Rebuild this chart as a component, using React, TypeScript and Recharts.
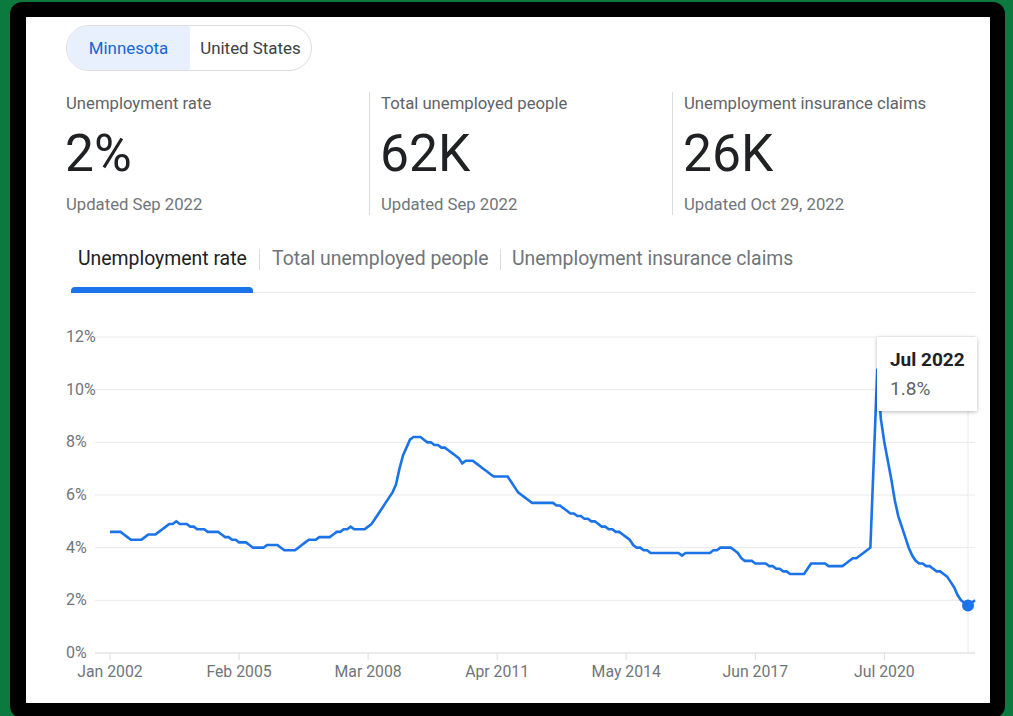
import React from "react";
import {
  LineChart,
  Line,
  XAxis,
  YAxis,
  CartesianGrid,
  Tooltip,
} from "recharts";

// Minnesota unemployment rate, monthly, Jan 2002 - Sep 2022 (%)
const rate2002 = [4.6, 4.6, 4.6, 4.6, 4.5, 4.4, 4.3, 4.3, 4.3, 4.3, 4.4, 4.5];
const rate2003 = [4.5, 4.5, 4.6, 4.7, 4.8, 4.9, 4.9, 5.0, 4.9, 4.9, 4.9, 4.8];
const rate2004 = [4.8, 4.7, 4.7, 4.7, 4.6, 4.6, 4.6, 4.6, 4.5, 4.4, 4.4, 4.3];
const rate2005 = [4.3, 4.2, 4.2, 4.2, 4.1, 4.0, 4.0, 4.0, 4.0, 4.1, 4.1, 4.1];
const rate2006 = [4.1, 4.0, 3.9, 3.9, 3.9, 3.9, 4.0, 4.1, 4.2, 4.3, 4.3, 4.3];
const rate2007 = [4.4, 4.4, 4.4, 4.4, 4.5, 4.6, 4.6, 4.7, 4.7, 4.8, 4.7, 4.7];
const rate2008 = [4.7, 4.7, 4.8, 4.9, 5.1, 5.3, 5.5, 5.7, 5.9, 6.1, 6.4, 7.0];
const rate2009 = [7.5, 7.8, 8.1, 8.2, 8.2, 8.2, 8.1, 8.0, 8.0, 7.9, 7.9, 7.8];
const rate2010 = [7.8, 7.7, 7.6, 7.5, 7.4, 7.2, 7.3, 7.3, 7.3, 7.2, 7.1, 7.0];
const rate2011 = [6.9, 6.8, 6.7, 6.7, 6.7, 6.7, 6.7, 6.5, 6.3, 6.1, 6.0, 5.9];
const rate2012 = [5.8, 5.7, 5.7, 5.7, 5.7, 5.7, 5.7, 5.7, 5.6, 5.6, 5.5, 5.4];
const rate2013 = [5.3, 5.3, 5.2, 5.2, 5.1, 5.1, 5.0, 5.0, 4.9, 4.8, 4.8, 4.7];
const rate2014 = [4.7, 4.6, 4.6, 4.5, 4.4, 4.3, 4.1, 4.0, 4.0, 3.9, 3.9, 3.8];
const rate2015 = [3.8, 3.8, 3.8, 3.8, 3.8, 3.8, 3.8, 3.8, 3.7, 3.8, 3.8, 3.8];
const rate2016 = [3.8, 3.8, 3.8, 3.8, 3.8, 3.9, 3.9, 4.0, 4.0, 4.0, 4.0, 3.9];
const rate2017 = [3.8, 3.6, 3.5, 3.5, 3.5, 3.4, 3.4, 3.4, 3.4, 3.3, 3.3, 3.2];
const rate2018 = [3.2, 3.1, 3.1, 3.0, 3.0, 3.0, 3.0, 3.0, 3.2, 3.4, 3.4, 3.4];
const rate2019 = [3.4, 3.4, 3.3, 3.3, 3.3, 3.3, 3.3, 3.4, 3.5, 3.6, 3.6, 3.7];
const rate2020 = [3.8, 3.9, 4.0, 7.4, 10.8, 8.9, 8.0, 7.3, 6.6, 5.8, 5.2, 4.8];
const rate2021 = [4.4, 4.0, 3.7, 3.5, 3.4, 3.4, 3.3, 3.3, 3.2, 3.1, 3.1, 3.0];
const rate2022 = [2.9, 2.7, 2.5, 2.2, 2.0, 1.9, 1.8, 1.9, 2.0];

const years = [
  rate2002, rate2003, rate2004, rate2005, rate2006, rate2007, rate2008,
  rate2009, rate2010, rate2011, rate2012, rate2013, rate2014, rate2015,
  rate2016, rate2017, rate2018, rate2019, rate2020, rate2021, rate2022,
];
const startYear = 2002;
const monthNames = ["Jan", "Feb", "Mar", "Apr", "May", "Jun", "Jul", "Aug", "Sep", "Oct", "Nov", "Dec"];

const xTicks = [0, 37, 74, 111, 148, 185, 222];
const yTicks = [0, 2, 4, 6, 8, 10, 12];
const hoverIndex = 246; // Jul 2022

const data = years.flatMap((vals, yi) =>
  vals.map((v, mi) => ({
    idx: yi * 12 + mi,
    label: `${monthNames[mi]} ${startYear + yi}`,
    rate: v,
  }))
);

const FONT = "Roboto, Arial, sans-serif";

const YTick = (props: any) => {
  const { y, payload } = props;
  return (
    <text x={26} y={y} dy={5} fill="#70757a" fontSize={16} fontFamily={FONT}>
      {payload.value}%
    </text>
  );
};

const XTick = (props: any) => {
  const { x, y, payload } = props;
  const d = data[payload.value];
  return (
    <text x={x} y={y} dy={15} textAnchor="middle" fill="#70757a" fontSize={15.8} fontFamily={FONT}>
      {d ? d.label : ""}
    </text>
  );
};

const TipBox = ({ active, payload }: any) => {
  if (!active || !payload || !payload.length) return null;
  const p = payload[0].payload;
  return (
    <div
      style={{
        width: 100,
        height: 74,
        boxSizing: "border-box",
        background: "#fff",
        boxShadow: "0 1px 4px rgba(0,0,0,0.28)",
        padding: "12px 0 0 13px",
        fontFamily: FONT,
        whiteSpace: "nowrap",
      }}
    >
      <div style={{ fontWeight: 700, fontSize: 19, lineHeight: "22px", color: "#202124" }}>{p.label}</div>
      <div style={{ fontSize: 19, lineHeight: "22px", color: "#5f6368", marginTop: 7 }}>{p.rate}%</div>
    </div>
  );
};

const abs = (left: number, top: number, extra: React.CSSProperties = {}): React.CSSProperties => ({
  position: "absolute",
  left,
  top,
  whiteSpace: "nowrap",
  ...extra,
});

const stats = [
  { x: 66, title: "Unemployment rate", value: "2%", updated: "Updated Sep 2022" },
  { x: 381, title: "Total unemployed people", value: "62K", updated: "Updated Sep 2022" },
  { x: 684, title: "Unemployment insurance claims", value: "26K", updated: "Updated Oct 29, 2022" },
];

const tabs = [
  { x: 78, text: "Unemployment rate", active: true },
  { x: 272, text: "Total unemployed people", active: false },
  { x: 512, text: "Unemployment insurance claims", active: false },
];

export default function App() {
  return (
    <div style={{ position: "absolute", left: 0, top: 0, width: 1013, height: 716, background: "#0c7a3f", overflow: "hidden", fontFamily: FONT }}>
      <div style={abs(10, 2, { width: 995, height: 716, background: "#000", borderRadius: 12 })} />
      <div style={abs(26, 17, { width: 964, height: 686, background: "#fff" })} />

      {/* region toggle */}
      <div
        style={abs(66, 25, {
          width: 246,
          height: 46,
          boxSizing: "border-box",
          border: "1px solid #dadce0",
          borderRadius: 23,
          overflow: "hidden",
          display: "flex",
          fontSize: 16.9,
        })}
      >
        <div style={{ width: 123, background: "#e8f0fe", color: "#1967d2", display: "flex", alignItems: "center", justifyContent: "center" }}>
          Minnesota
        </div>
        <div style={{ flex: 1, color: "#3c4043", display: "flex", alignItems: "center", justifyContent: "center" }}>
          United States
        </div>
      </div>

      {/* stats */}
      {stats.map((s) => (
        <React.Fragment key={s.title}>
          <div style={abs(s.x, 94, { fontSize: 16.7, lineHeight: "20px", color: "#5f6368" })}>{s.title}</div>
          <div style={abs(s.x - 1, 126, { fontSize: 51.5, lineHeight: "56px", color: "#202124" })}>{s.value}</div>
          <div style={abs(s.x, 195, { fontSize: 16.7, lineHeight: "20px", color: "#70757a" })}>{s.updated}</div>
        </React.Fragment>
      ))}
      <div style={abs(369, 92, { width: 1, height: 123, background: "#dadce0" })} />
      <div style={abs(672, 92, { width: 1, height: 123, background: "#dadce0" })} />

      {/* tabs */}
      {tabs.map((t) => (
        <div key={t.text} style={abs(t.x, 247, { fontSize: 19.4, lineHeight: "24px", color: t.active ? "#202124" : "#70757a" })}>
          {t.text}
        </div>
      ))}
      <div style={abs(259, 249, { width: 1, height: 21, background: "#dadce0" })} />
      <div style={abs(500, 249, { width: 1, height: 21, background: "#dadce0" })} />
      <div style={abs(71, 292, { width: 904, height: 1, background: "#e8eaed" })} />
      <div style={abs(71, 287, { width: 182, height: 6, background: "#1a73e8", borderRadius: "4px 4px 0 0" })} />

      {/* chart */}
      <div style={abs(40, 320)}>
        <LineChart width={950} height={380} data={data} margin={{ top: 17, right: 15, bottom: 7, left: 0 }}>
          <CartesianGrid horizontal vertical={false} stroke="#e8eaed" />
          <XAxis
            dataKey="idx"
            type="number"
            domain={[0, 248]}
            ticks={xTicks}
            padding={{ left: 15, right: 0 }}
            tick={<XTick />}
            tickSize={7}
            tickLine={{ stroke: "#dadce0" }}
            axisLine={{ stroke: "#e0e0e0" }}
            height={40}
            interval={0}
          />
          <YAxis
            domain={[0, 12]}
            ticks={yTicks}
            tick={<YTick />}
            axisLine={false}
            tickLine={false}
            width={55}
            interval={0}
          />
          <Tooltip
            defaultIndex={hoverIndex}
            active
            position={{ x: 837, y: 17 }}
            content={<TipBox />}
            cursor={{ stroke: "#e8eaed", strokeWidth: 1 }}
            isAnimationActive={false}
          />
          <Line
            type="linear"
            dataKey="rate"
            stroke="#1a73e8"
            strokeWidth={2.6}
            dot={false}
            activeDot={{ r: 6, fill: "#1a73e8", stroke: "none" }}
            isAnimationActive={false}
          />
        </LineChart>
      </div>
    </div>
  );
}
